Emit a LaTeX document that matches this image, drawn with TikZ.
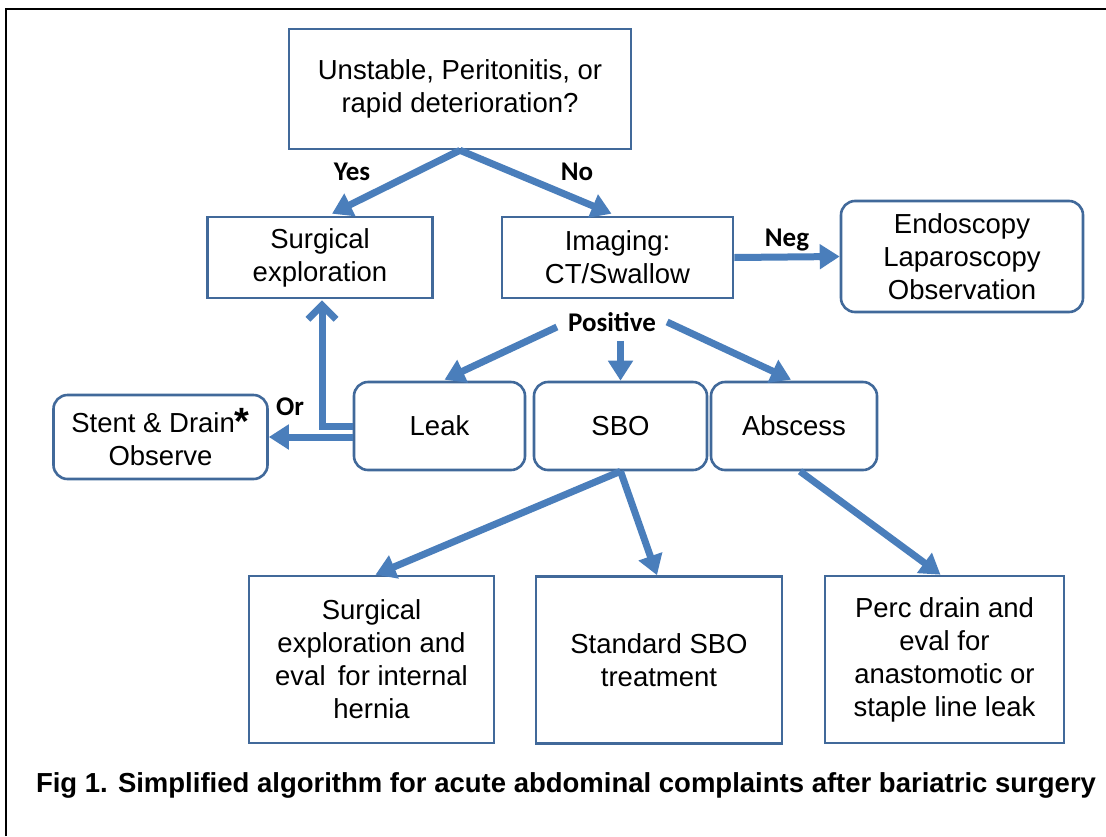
\documentclass[tikz,border=0pt]{standalone}
\usepackage{fontspec}
\setmainfont{Liberation Sans}
\newfontfamily\labfont{Carlito}
\usetikzlibrary{arrows.meta,calc}
\definecolor{boxline}{HTML}{41699A}
\definecolor{arrowc}{HTML}{4A7EBB}
\begin{document}
\begin{tikzpicture}[x=1pt,y=-1pt,
  box/.style={draw=boxline, line width=2.6pt, align=center, inner sep=0pt,
    font=\fontsize{27.5}{33}\selectfont, fill=white},
  rbox/.style={box, rounded corners=14pt},
  arr/.style={draw=arrowc, line width=7pt, -{Triangle[length=20pt,width=24pt]}},
  openarr/.style={draw=arrowc, line width=7pt, -{Straight Barb[length=14pt,width=28pt]}},
  lab/.style={font=\labfont\bfseries\fontsize{27}{32}\selectfont, inner sep=1pt},
  captext/.style={font=\bfseries\fontsize{27.5}{33}\selectfont, inner sep=0pt}
]
\useasboundingbox (0,0) rectangle (1106,836);
\fill[white] (0,0) rectangle (1106,836);
\draw[line width=2pt] (6,836) -- (6,9) -- (1106,9);

% nodes
\node[box, minimum width=342pt, minimum height=120pt] (top) at (460,89) {Unstable, Peritonitis, or\\rapid deterioration?};
\node[box, minimum width=225pt, minimum height=81pt] (surg) at (320,257.5) {Surgical\\exploration};
\node[box, minimum width=231pt, minimum height=81pt] (imag) at (617.5,257.5) {Imaging:\\CT/Swallow};
\node[rbox, minimum width=242pt, minimum height=111pt] (endo) at (962,256.5) {Endoscopy\\Laparoscopy\\Observation};
\node[lab] (pos) at (612,322) {Positive};
\node[rbox, minimum width=171pt, minimum height=88pt] (leak) at (439.5,426) {Leak};
\node[rbox, minimum width=173pt, minimum height=88pt] (sbo) at (620.5,426) {SBO};
\node[rbox, minimum width=166pt, minimum height=88pt] (absc) at (794,426) {Abscess};
\node[rbox, minimum width=214pt, minimum height=84pt] (stent) at (160.5,437) {Stent \& Drain{\fontsize{38}{38}\selectfont\bfseries\raisebox{-2pt}{*}}\\Observe};
\node[box, minimum width=245pt, minimum height=167pt] (b1) at (371.5,659.5) {Surgical\\exploration and\\eval\, for internal\\hernia};
\node[box, minimum width=246pt, minimum height=167pt] (b2) at (659,660) {Standard SBO\\treatment};
\node[box, minimum width=239pt, minimum height=167pt] (b3) at (944.5,659.5) {Perc drain and\\eval for\\anastomotic or\\staple line leak};

% labels
\node[lab] (yes) at (352,172) {Yes};
\node[lab] (no) at (577,172) {No};
\node[lab] (neg) at (787,240) {Neg};
\node[lab] (or) at (290,407) {Or};

% connectors
\draw[arr] (top.south) -- ($(surg.north)+(12,-2)$);
\draw[arr] (top.south) -- ($(imag.north)+(-6,-2)$);
\draw[arr] (imag.east) -- (endo.west);
\draw[arr] ($(pos.west)+(-10,5)$) -- ($(leak.north)+(5,-1)$);
\draw[arr] ([yshift=-8pt]sbo.north |- pos.south) -- (sbo.north);
\draw[arr] ($(pos.east)+(10,0)$) -- ($(absc.north)+(-3,-1)$);
\draw[openarr] (leak.west) -| ($(surg.south)+(2,1)$);
\draw[arr] (leak.west |- stent.east) -- (stent.east);
\draw[arr] (sbo.south) -- ($(b1.north)+(4,0)$);
\draw[arr] (sbo.south) -- ($(b2.north)+(-2,0)$);
\draw[arr] ($(absc.south)+(6,0)$) -- ($(b3.north)+(-4,0)$);

% caption
\node[captext] (caption) at (566,785) {Fig 1. Simplified algorithm for acute abdominal complaints after bariatric surgery};
\end{tikzpicture}
\end{document}
